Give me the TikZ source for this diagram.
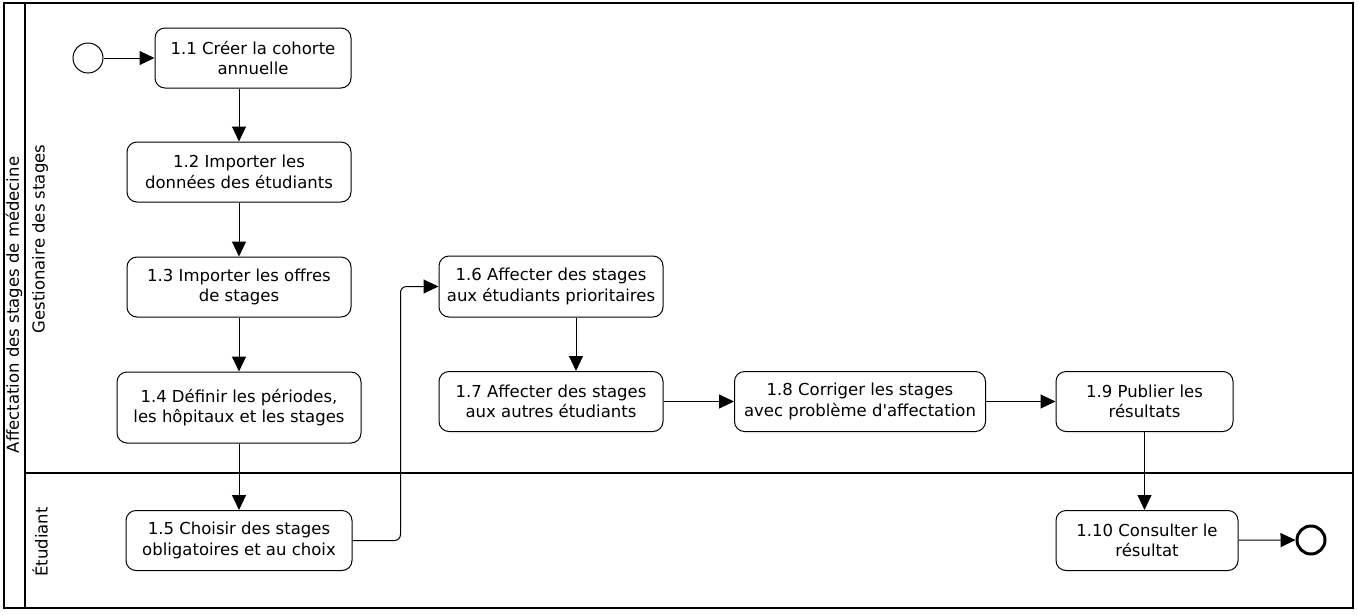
\documentclass[tikz,border=0pt]{standalone}
\usepackage{fontspec}
\setmainfont{DejaVu Sans}
\usetikzlibrary{arrows.meta}
\begin{document}
\begin{tikzpicture}[x=1pt,y=-1pt,
  txt/.style={font=\fontsize{16.5}{20.5}\selectfont},
  task/.style={txt,draw,rounded corners=10pt,line width=1pt,align=center,inner sep=0pt},
  flow/.style={-{Triangle[length=15pt,width=14pt]},line width=1pt},
  lbl/.style={txt,rotate=90}]
\useasboundingbox (0,0) rectangle (1358,614);
% pool and lanes
\draw[line width=1.2pt] (4,3) rectangle (1353,608);
\draw[line width=2pt] (25,3) -- (25,608);
\draw[line width=1.2pt] (25,473) -- (1353,473);
\node[lbl] (pool) at (14,305) {Affectation des stages de médecine};
\node[lbl] (lane1) at (40,239) {Gestionaire des stages};
\node[lbl] (lane2) at (40,542) {Étudiant};
% events
\node[draw,circle,minimum size=30pt,line width=1pt,inner sep=0pt] (start) at (88,58) {};
\node[draw,circle,minimum size=28pt,line width=3pt,inner sep=0pt] (end) at (1311,540) {};
% tasks
\node[task,minimum width=196pt,minimum height=60pt] (t1) at (253,58) {1.1 Créer la cohorte\\annuelle};
\node[task,minimum width=224pt,minimum height=60pt] (t2) at (239,172) {1.2 Importer les\\données des étudiants};
\node[task,minimum width=224pt,minimum height=60pt] (t3) at (239,287) {1.3 Importer les offres\\de stages};
\node[task,minimum width=244pt,minimum height=71pt] (t4) at (239,407.5) {1.4 Définir les périodes,\\les hôpitaux et les stages};
\node[task,minimum width=226pt,minimum height=60pt] (t5) at (239,540.5) {1.5 Choisir des stages\\obligatoires et au choix};
\node[task,minimum width=224pt,minimum height=61pt] (t6) at (551,286.5) {1.6 Affecter des stages\\aux étudiants prioritaires};
\node[task,minimum width=224pt,minimum height=60pt] (t7) at (551,401.5) {1.7 Affecter des stages\\aux autres étudiants};
\node[task,minimum width=251pt,minimum height=60pt] (t8) at (860,401.5) {1.8 Corriger les stages\\avec problème d\textquotesingle affectation};
\node[task,minimum width=177pt,minimum height=60pt] (t9) at (1144.5,401.5) {1.9 Publier les\\résultats};
\node[task,minimum width=182pt,minimum height=60pt] (t10) at (1147,540.5) {1.10 Consulter le\\résultat};
% flows
\draw[flow] (start) -- (t1);
\draw[flow] (t1.south -| t2.north) -- (t2.north);
\draw[flow] (t2) -- (t3);
\draw[flow] (t3) -- (t4);
\draw[flow] (t4) -- (t5);
\draw[flow,rounded corners=6pt] (t5.east) -- ++(48,0) |- (t6.west);
\draw[flow] ([xshift=25pt]t6.south) -- ([xshift=25pt]t7.north);
\draw[flow] (t7) -- (t8);
\draw[flow] (t8) -- (t9);
\draw[flow] (t9.south) -- (t9.south |- t10.north);
\draw[flow] (t10) -- (end);
\end{tikzpicture}
\end{document}
